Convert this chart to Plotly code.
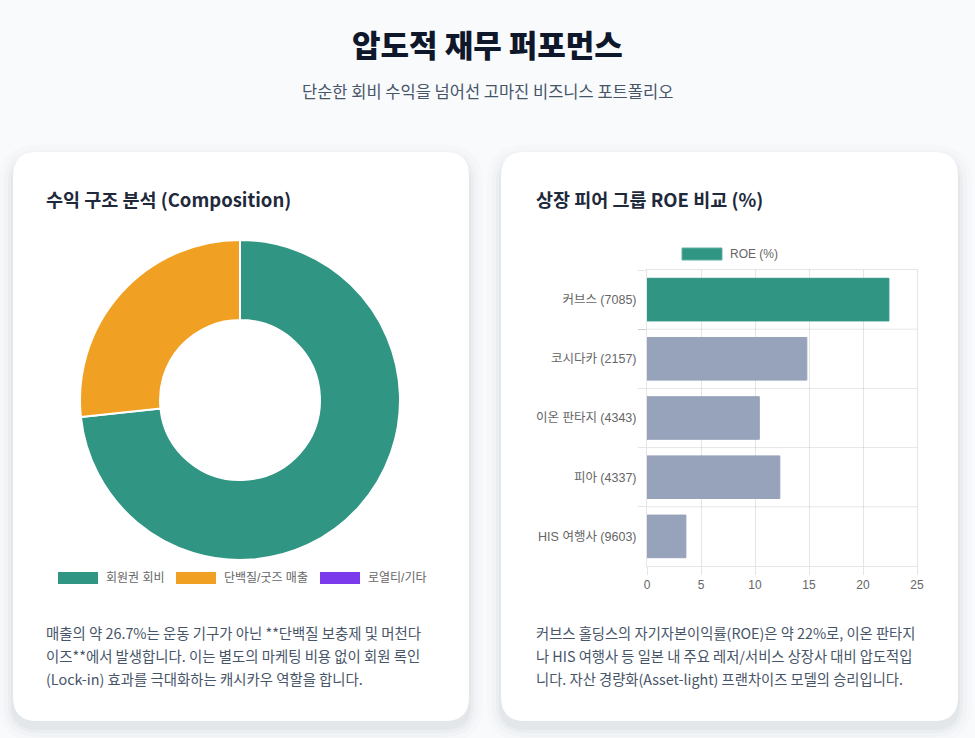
import plotly.graph_objects as go

W, H = 975, 738

# donut data
rev_labels = ["회원권 회비", "단백질/굿즈 매출", "로열티/기타"]
rev_values = [73.3, 26.7, 0.0]
rev_colors = ["#319584", "#F0A022", "#7C3AED"]

# ROE data
peer_names = ["커브스 (7085)", "코시다카 (2157)", "이온 판타지 (4343)", "피아 (4337)", "HIS 여행사 (9603)"]
peer_roe = [22.4, 14.8, 10.4, 12.3, 3.6]
peer_colors = ["#319584", "#97A3BA", "#97A3BA", "#97A3BA", "#97A3BA"]
roe_series = "ROE (%)"

title = "압도적 재무 퍼포먼스"
subtitle = "단순한 회비 수익을 넘어선 고마진 비즈니스 포트폴리오"
left_title = "수익 구조 분석 (Composition)"
right_title = "상장 피어 그룹 ROE 비교 (%)"
left_body = [
    "매출의 약 26.7%는 운동 기구가 아닌 **단백질 보충제 및 머천다",
    "이즈**에서 발생합니다. 이는 별도의 마케팅 비용 없이 회원 록인",
    "(Lock-in) 효과를 극대화하는 캐시카우 역할을 합니다.",
]
right_body = [
    "커브스 홀딩스의 자기자본이익률(ROE)은 약 22%로, 이온 판타지",
    "나 HIS 여행사 등 일본 내 주요 레저/서비스 상장사 대비 압도적입",
    "니다. 자산 경량화(Asset-light) 프랜차이즈 모델의 승리입니다.",
]

KR = "Noto Sans CJK KR"
CHART = "Liberation Sans, Noto Sans CJK KR"
BG = "#F8FAFC"


def px(x):
    return x / W


def py(y):
    return 1 - y / H


def rounded(x0, y0, x1, y1, r):
    pts = [
        f"M {px(x0 + r)},{py(y0)}",
        f"L {px(x1 - r)},{py(y0)}",
        f"Q {px(x1)},{py(y0)} {px(x1)},{py(y0 + r)}",
        f"L {px(x1)},{py(y1 - r)}",
        f"Q {px(x1)},{py(y1)} {px(x1 - r)},{py(y1)}",
        f"L {px(x0 + r)},{py(y1)}",
        f"Q {px(x0)},{py(y1)} {px(x0)},{py(y1 - r)}",
        f"L {px(x0)},{py(y0 + r)}",
        f"Q {px(x0)},{py(y0)} {px(x0 + r)},{py(y0)}",
        "Z",
    ]
    return " ".join(pts)


def label(text, x, y, size, color, family=KR, xanchor="left", weight="normal"):
    return dict(text=text, x=px(x), y=py(y), xref="paper", yref="paper",
                xanchor=xanchor, yanchor="middle", showarrow=False,
                font=dict(family=family, size=size, color=color, weight=weight))


fig = go.Figure()

fig.add_trace(go.Pie(
    labels=rev_labels,
    values=rev_values,
    hole=0.5,
    sort=False,
    direction="clockwise",
    rotation=0,
    marker=dict(colors=rev_colors, line=dict(color="white", width=2)),
    textinfo="none",
    showlegend=False,
    domain=dict(x=[px(80), px(400)], y=[py(561), py(239)]),
))

fig.add_trace(go.Bar(
    x=peer_roe,
    y=peer_names,
    orientation="h",
    width=0.72,
    marker=dict(color=peer_colors, line=dict(color=peer_colors, width=1)),
    name=roe_series,
    showlegend=False,
))

grid = "rgba(0,0,0,0.1)"
fig.update_layout(
    width=W,
    height=H,
    autosize=False,
    margin=dict(l=0, r=0, t=0, b=0, pad=0),
    paper_bgcolor=BG,
    plot_bgcolor="rgba(0,0,0,0)",
    font=dict(family=KR, color="#475569"),
    xaxis=dict(
        domain=[px(647), px(917)],
        anchor="y",
        range=[0, 25],
        dtick=5,
        showgrid=True,
        gridcolor=grid,
        zeroline=False,
        showline=True,
        linecolor=grid,
        mirror=True,
        ticks="outside",
        ticklen=8,
        tickcolor=grid,
        tickfont=dict(family=CHART, size=12, color="#666666"),
        automargin=False,
        fixedrange=True,
    ),
    yaxis=dict(
        domain=[py(566), py(270)],
        anchor="x",
        autorange="reversed",
        tickson="boundaries",
        showgrid=False,
        zeroline=False,
        showline=True,
        linecolor=grid,
        mirror=True,
        ticks="outside",
        ticklen=8,
        tickcolor=grid,
        ticklabelstandoff=7,
        tickfont=dict(family=CHART, size=12.5, color="#666666"),
        automargin=False,
        fixedrange=True,
    ),
)

shapes = []
cards = [(13, 152, 469, 721), (501, 152, 958, 721)]
for (x0, y0, x1, y1) in cards:
    for spread, alpha in [(14, 0.01), (9, 0.015), (5, 0.022), (2, 0.03)]:
        shapes.append(dict(type="path", xref="paper", yref="paper", layer="below",
                           path=rounded(x0 - spread, y0 - spread + 7, x1 + spread, y1 + spread + 7, 24 + spread),
                           fillcolor=f"rgba(15,23,42,{alpha})", line=dict(width=0)))
    shapes.append(dict(type="path", xref="paper", yref="paper", layer="below",
                       path=rounded(x0, y0, x1, y1, 24),
                       fillcolor="white", line=dict(width=0)))

# horizontal grid lines on category boundaries
for i in range(len(peer_names) - 1):
    shapes.append(dict(type="line", xref="x domain", yref="y", layer="below",
                       x0=0, x1=1, y0=i + 0.5, y1=i + 0.5,
                       line=dict(color=grid, width=1)))

annotations = [
    label(title, 487.5, 43, 31, "#0F172A", xanchor="center", weight=900),
    label(subtitle, 487.5, 91, 16.5, "#475569", xanchor="center"),
    label(left_title, 44, 199, 18.5, "#1E293B", weight="bold"),
    label(right_title, 534, 199, 18.5, "#1E293B", weight="bold"),
]
for i, line in enumerate(left_body):
    annotations.append(label(line, 44, 632 + 23 * i, 14.4, "#475569"))
for i, line in enumerate(right_body):
    annotations.append(label(line, 534, 632 + 23 * i, 14.3, "#475569"))

# donut legend (chart.js style wide swatches)
legend_x = [58, 176, 320]
for lx, lab, col in zip(legend_x, rev_labels, rev_colors):
    shapes.append(dict(type="rect", xref="paper", yref="paper",
                       x0=px(lx), x1=px(lx + 40), y0=py(584), y1=py(572),
                       fillcolor=col, line=dict(width=0)))
    annotations.append(label(lab, lx + 46, 578, 12, "#666666", family=CHART))

# bar legend
shapes.append(dict(type="rect", xref="paper", yref="paper",
                   x0=px(682), x1=px(722), y0=py(260), y1=py(248),
                   fillcolor=peer_colors[0], line=dict(color="#5FB3A5", width=1)))
annotations.append(label(roe_series, 728, 254, 12, "#666666", family=CHART))

fig.update_layout(shapes=shapes, annotations=annotations)

fig.write_html(
    "out.html",
    config={"displayModeBar": False, "responsive": False},
    post_script="document.body.style.margin='0';document.body.style.background='%s';"
                "document.body.style.overflow='hidden';" % BG,
)
